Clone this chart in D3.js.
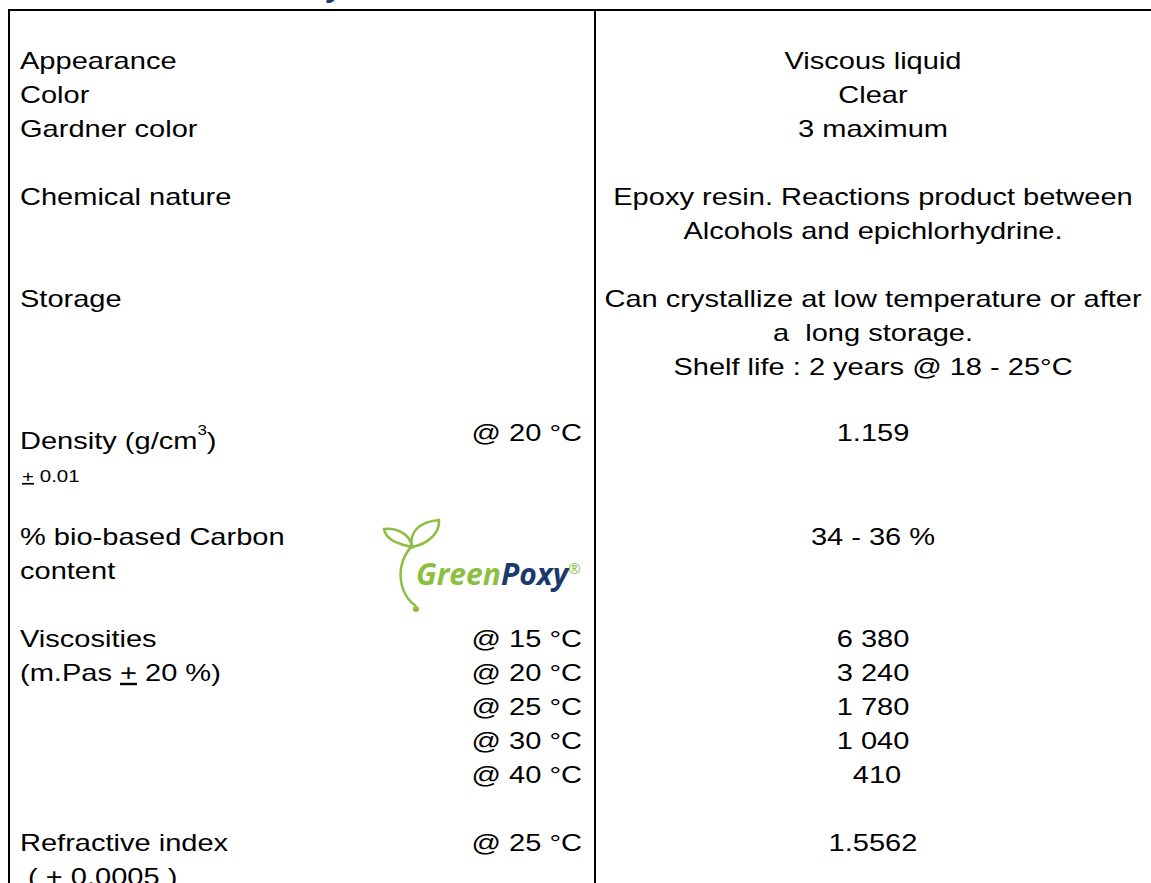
<!DOCTYPE html>
<html>
<head>
<meta charset="utf-8">
<script src="https://cdn.jsdelivr.net/npm/d3@7"></script>
<style>
  body { margin: 0; background: #fff; }
  svg text { font-family: "Liberation Sans", Arial, sans-serif; white-space: pre; }
</style>
</head>
<body>
<div id="sheet"></div>
<script>
// left column labels: [line index, text]
const labels = [
	[0, 'Appearance'],
	[1, 'Color'],
	[2, 'Gardner color'],
	[4, 'Chemical nature'],
	[7, 'Storage'],
	[14, '% bio-based Carbon'],
	[15, 'content'],
	[17, 'Viscosities'],
	[23, 'Refractive index'],
	[24, ' ( + 0.0005 )']
];

// measuring conditions, right aligned in the left column
const conditions = [
	[11, '@ 20 °C'],
	[17, '@ 15 °C'],
	[18, '@ 20 °C'],
	[19, '@ 25 °C'],
	[20, '@ 30 °C'],
	[21, '@ 40 °C'],
	[23, '@ 25 °C']
];

// values, centred in the right column
const values = [
	[0, 'Viscous liquid'],
	[1, 'Clear'],
	[2, '3 maximum'],
	[4, 'Epoxy resin. Reactions product between'],
	[5, 'Alcohols and epichlorhydrine.'],
	[7, 'Can crystallize at low temperature or after'],
	[8, 'a  long storage.'],
	[9, 'Shelf life : 2 years @ 18 - 25°C'],
	[11, '1.159'],
	[14, '34 - 36 %'],
	[17, '6 380'],
	[18, '3 240'],
	[19, '1 780'],
	[20, '1 040'],
	[21, ' 410'],
	[23, '1.5562']
];

const width = 1151;
const height = 883;

const svg = d3.select('#sheet')
	.append('svg')
	.attr('width', width)
	.attr('height', height);

// one text line = 34px
const y = d3.scaleLinear().domain([0, 1]).range([69, 103]);

const leftX = 20;
const condX = 582;
const divX = 595;
const valX = (divX + width) / 2;
const sx = 1.21; // the sheet's type is set wide
const fs = '24px';

const place = (x, yy) => `translate(${x},${yy}) scale(${sx},1)`;

// cut off heading above the frame
svg.append('text')
	.attr('x', 344)
	.attr('y', -4)
	.attr('text-anchor', 'end')
	.style('font-family', '"Open Sans", sans-serif')
	.style('font-style', 'italic')
	.style('font-weight', 700)
	.style('font-size', '30px')
	.style('fill', '#1b3a6b')
	.text('GreenPoxy');

// frame
const frame = svg.append('g')
	.attr('stroke', '#000')
	.attr('stroke-width', 2);

frame.append('line').attr('x1', 8).attr('x2', width).attr('y1', 10).attr('y2', 10);
frame.append('line').attr('x1', 9).attr('x2', 9).attr('y1', 9).attr('y2', height);
frame.append('line').attr('x1', divX).attr('x2', divX).attr('y1', 10).attr('y2', height);

svg.append('g').selectAll('text')
	.data(labels)
	.join('text')
	.attr('transform', (d) => place(leftX, y(d[0])))
	.style('font-size', fs)
	.text((d) => d[1]);

// Density with superscript
const dens = svg.append('text')
	.attr('transform', place(leftX, y(11) + 6))
	.style('font-size', fs);
dens.append('tspan').text('Density (g/cm');
dens.append('tspan').attr('dy', -14).style('font-size', '14px').text('3');
dens.append('tspan').attr('dy', 14).text(')');

const tol = svg.append('text')
	.attr('transform', place(leftX + 2, y(12) + 5))
	.style('font-size', '17px');
tol.append('tspan').style('text-decoration', 'underline').text('+');
tol.append('tspan').text(' 0.01');

const visc = svg.append('text')
	.attr('transform', place(leftX, y(18)))
	.style('font-size', fs);
visc.append('tspan').text('(m.Pas ');
visc.append('tspan').style('text-decoration', 'underline').text('+');
visc.append('tspan').text(' 20 %)');

svg.append('g').selectAll('text')
	.data(conditions)
	.join('text')
	.attr('transform', (d) => place(condX, y(d[0]) - (d[0] === 11 ? 2 : 0)))
	.attr('text-anchor', 'end')
	.style('font-size', fs)
	.text((d) => d[1]);

svg.append('g').selectAll('text')
	.data(values)
	.join('text')
	.attr('transform', (d) => place(valX, y(d[0]) - (d[0] === 11 ? 2 : 0)))
	.attr('text-anchor', 'middle')
	.style('font-size', fs)
	.text((d) => d[1]);

// GreenPoxy logo
const green = '#8cbf3f';
const navy = '#1b3a6b';
const logo = svg.append('g');

logo.append('path')
	.attr('d', 'M416,606 C404,598 399,583 401,568 C403,558 407,551 412,546')
	.attr('fill', 'none')
	.attr('stroke', green)
	.attr('stroke-width', 2.5);
logo.append('circle')
	.attr('cx', 416)
	.attr('cy', 609)
	.attr('r', 3)
	.attr('fill', green);
// left leaf
logo.append('path')
	.attr('d', 'M412,547 C404,545 386,542 384,529 C396,528 410,533 412,547 Z')
	.attr('fill', 'none')
	.attr('stroke', green)
	.attr('stroke-width', 2.5);
// right leaf
logo.append('path')
	.attr('d', 'M412,547 C409,533 418,522 439,520 C440,533 428,544 412,547 Z')
	.attr('fill', 'none')
	.attr('stroke', green)
	.attr('stroke-width', 2.5);

const lt = logo.append('text')
	.attr('x', 416)
	.attr('y', 585)
	.style('font-family', '"Open Sans", sans-serif')
	.style('font-style', 'italic')
	.style('font-weight', 700)
	.style('font-size', '30px');
lt.append('tspan').attr('fill', green).text('Green');
lt.append('tspan').attr('fill', navy).text('Poxy');
lt.append('tspan')
	.attr('fill', green)
	.attr('dy', -11)
	.style('font-size', '15px')
	.style('font-weight', 400)
	.text('®');
</script>
</body>
</html>
